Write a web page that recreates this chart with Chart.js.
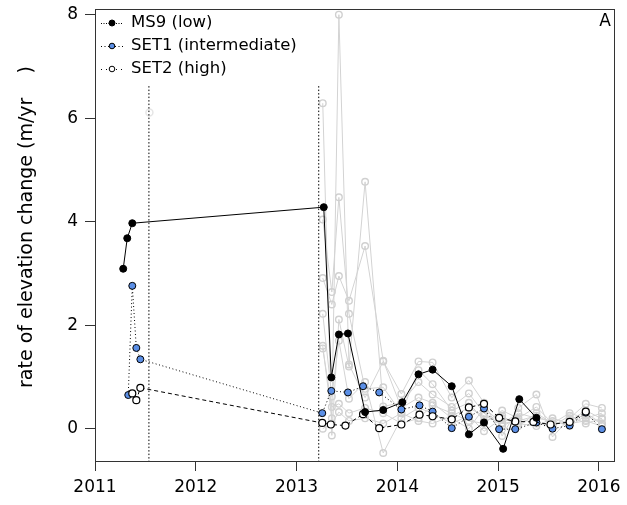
<!DOCTYPE html>
<html>
<head>
<meta charset="utf-8">
<script src="https://cdn.jsdelivr.net/npm/chart.js@4/dist/chart.umd.min.js"></script>
<style>
html, body { margin: 0; padding: 0; background: #fff; }
#wrap { width: 627px; height: 505px; }
</style>
</head>
<body>
<div id="wrap"><canvas id="c" width="627" height="505"></canvas></div>
<script>
// values (decimal years, m/yr)
var ms9Dates = [2011.28, 2011.32, 2011.37, 2013.27, 2013.345, 2013.42, 2013.51, 2013.68, 2013.86, 2014.05, 2014.21, 2014.35, 2014.54, 2014.71, 2014.86, 2015.05, 2015.21, 2015.38];
var ms9Values = [3.09, 3.68, 3.97, 4.28, 0.99, 1.82, 1.84, 0.32, 0.36, 0.51, 1.05, 1.14, 0.82, -0.11, 0.12, -0.39, 0.57, 0.21];

var set1Dates = [2011.33, 2011.37, 2011.41, 2011.45, 2013.255, 2013.345, 2013.51, 2013.66, 2013.82, 2014.04, 2014.22, 2014.35, 2014.54, 2014.71, 2014.86, 2015.01, 2015.17, 2015.38, 2015.54, 2015.71, 2015.87, 2016.03];
var set1Values = [0.65, 2.76, 1.56, 1.34, 0.30, 0.73, 0.70, 0.82, 0.70, 0.37, 0.45, 0.33, 0.01, 0.23, 0.39, -0.01, -0.01, 0.12, 0.00, 0.06, 0.31, -0.01];

var set2Dates = [2011.37, 2011.41, 2011.45, 2013.255, 2013.34, 2013.485, 2013.66, 2013.82, 2014.04, 2014.22, 2014.35, 2014.54, 2014.71, 2014.86, 2015.01, 2015.17, 2015.35, 2015.52, 2015.71, 2015.87];
var set2Values = [0.68, 0.55, 0.79, 0.11, 0.08, 0.06, 0.28, 0.01, 0.08, 0.27, 0.24, 0.18, 0.41, 0.48, 0.21, 0.14, 0.13, 0.08, 0.13, 0.33];

// background stations (grey)
var grayDates = [2013.26, 2013.35, 2013.42, 2013.52, 2013.68, 2013.86, 2014.04, 2014.21, 2014.35, 2014.54, 2014.71, 2014.86, 2015.04, 2015.2, 2015.38, 2015.54, 2015.71, 2015.87, 2016.03];
var grayA = [6.29, -0.13, 2.11, 1.20, 4.77, 0.43, 0.50, 0.90, 0.66, 0.42, 0.68, 0.30, 0.05, 0.20, 0.42, 0.10, 0.15, 0.35, 0.19];
var grayB = [1.60, 0.20, 8.00, 1.24, 0.60, 1.30, 0.67, 1.30, 1.28, 0.60, 0.93, 0.50, -0.14, 0.40, 0.66, -0.16, 0.20, 0.48, 0.40];
var grayC = [4.04, 2.64, 4.47, 2.22, 0.77, 0.80, 0.30, 1.13, 0.86, 0.35, 0.50, 0.15, 0.25, 0.05, 0.30, 0.10, 0.30, 0.20, 0.30];
var grayD = [2.91, 2.40, 2.95, 2.47, 3.53, 1.31, 0.40, 0.60, 0.50, 0.20, 0.00, 0.40, 0.10, 0.30, 0.20, 0.15, 0.05, 0.25, 0.10];
var grayE = [2.22, 0.62, 1.70, 0.58, 0.90, -0.47, 0.20, 0.40, 0.30, 0.10, 0.25, -0.05, 0.20, 0.10, 0.05, 0.20, 0.10, 0.15, 0.05];
var grayF = [1.55, 0.42, 0.48, 0.30, 0.40, 0.30, 0.10, 0.20, 0.45, 0.30, 0.15, 0.10, 0.35, 0.20, 0.10, 0.05, 0.25, 0.10, 0.20];
var grayG = [0.00, 0.10, 0.32, 0.15, 0.20, 0.10, 0.30, 0.15, 0.10, 0.25, 0.40, 0.25, 0.10, 0.15, 0.25, 0.10, 0.10, 0.30, 0.10];
var grayList = [grayA, grayB, grayC, grayD, grayE, grayF, grayG];

var faintDate = [2011.54];
var faintValue = [6.11];

var eventDates = [2011.535, 2013.22];
var eventTop = 6.62;

var xTicks = [2011, 2012, 2013, 2014, 2015, 2016];
var yTicks = [0, 2, 4, 6, 8];
var xMin = 2011, xMax = 2016.15;
var yMin = -0.625, yMax = 8.11;

var FONT = "'DejaVu Sans', Verdana, sans-serif";
var BLUE = '#5b8fe6';

function pts(xs, ys) {
  return xs.map(function (x, i) { return { x: x, y: ys[i] }; });
}

var datasets = [];
datasets.push({
  label: 'MS9 (low)', data: pts(ms9Dates, ms9Values), order: 0,
  borderColor: '#000', borderWidth: 1, pointRadius: 3.5,
  pointBackgroundColor: '#000', pointBorderColor: '#000', pointBorderWidth: 1
});
datasets.push({
  label: 'SET2 (high)', data: pts(set2Dates, set2Values), order: 1,
  borderColor: '#000', borderWidth: 1, borderDash: [4, 3], pointRadius: 3.5,
  pointBackgroundColor: '#fff', pointBorderColor: '#000', pointBorderWidth: 1.2
});
datasets.push({
  label: 'SET1 (intermediate)', data: pts(set1Dates, set1Values), order: 2,
  borderColor: '#000', borderWidth: 1, borderDash: [1, 2.5], pointRadius: 3.5,
  pointBackgroundColor: BLUE, pointBorderColor: '#000', pointBorderWidth: 1
});
eventDates.forEach(function (d) {
  datasets.push({
    label: 'event', data: [{ x: d, y: eventTop }, { x: d, y: yMin }], order: 3,
    borderColor: '#000', borderWidth: 1, borderDash: [1.5, 2], pointRadius: 0
  });
});
datasets.push({
  label: 'faint', data: pts(faintDate, faintValue), order: 4, showLine: false,
  pointRadius: 3.5, pointBackgroundColor: 'rgba(0,0,0,0)',
  pointBorderColor: '#e6e6e6', pointBorderWidth: 1.5
});
grayList.forEach(function (g) {
  datasets.push({
    label: 'station', data: pts(grayDates, g), order: 5,
    borderColor: '#d3d3d3', borderWidth: 1, pointRadius: 3.3,
    pointBackgroundColor: 'rgba(0,0,0,0)', pointBorderColor: '#d0d0d0', pointBorderWidth: 1.4
  });
});

var extras = {
  id: 'extras',
  afterDraw: function (chart) {
    var ctx = chart.ctx, a = chart.chartArea;
    ctx.save();
    // frame
    ctx.strokeStyle = '#333';
    ctx.lineWidth = 1;
    ctx.strokeRect(Math.round(a.left) + 0.5, Math.round(a.top) + 0.5,
      Math.round(a.right - a.left), Math.round(a.bottom - a.top));
    // panel letter
    ctx.fillStyle = '#000';
    ctx.font = '17px ' + FONT;
    ctx.textAlign = 'right';
    ctx.textBaseline = 'middle';
    ctx.fillText('A', a.right - 3, 22);
    // y title
    ctx.save();
    ctx.translate(27, 227);
    ctx.rotate(-Math.PI / 2);
    ctx.textAlign = 'center';
    ctx.font = '19px ' + FONT;
    ctx.fillText('rate of elevation change (m/yr    )', 0, 0);
    ctx.restore();
    // legend
    var items = [
      { t: 'MS9 (low)', fill: '#000', dash: [1, 1.5] },
      { t: 'SET1 (intermediate)', fill: BLUE, dash: [1, 2.5] },
      { t: 'SET2 (high)', fill: '#fff', dash: [1, 4] }
    ];
    items.forEach(function (it, i) {
      var y = 23 + i * 23;
      ctx.setLineDash(it.dash);
      ctx.strokeStyle = '#000';
      ctx.lineWidth = 1;
      ctx.beginPath();
      ctx.moveTo(101, y + 0.5);
      ctx.lineTo(123, y + 0.5);
      ctx.stroke();
      ctx.setLineDash([]);
      ctx.beginPath();
      ctx.arc(112, y, i === 0 ? 3 : 2.8, 0, Math.PI * 2);
      ctx.fillStyle = it.fill;
      ctx.fill();
      ctx.stroke();
      ctx.fillStyle = '#000';
      ctx.textAlign = 'left';
      ctx.font = '16.5px ' + FONT;
      ctx.fillText(it.t, 131, y);
    });
    ctx.restore();
  }
};

new Chart(document.getElementById('c'), {
  type: 'line',
  data: { datasets: datasets },
  options: {
    responsive: false,
    animation: false,
    layout: { padding: { left: 0, right: 13, top: 9, bottom: 0 } },
    plugins: { legend: { display: false }, tooltip: { enabled: false } },
    scales: {
      x: {
        type: 'linear', min: xMin, max: xMax,
        afterFit: function (s) { s.height = 44; s.paddingLeft = 0; s.paddingRight = 0; },
        afterBuildTicks: function (s) { s.ticks = xTicks.map(function (v) { return { value: v }; }); },
        ticks: { color: '#000', padding: 6, font: { family: FONT, size: 17 }, callback: function (v) { return String(v); } },
        grid: { drawOnChartArea: false, drawTicks: true, tickLength: 10, color: '#333' },
        border: { display: true, color: '#333' }
      },
      y: {
        type: 'linear', min: yMin, max: yMax,
        afterFit: function (s) { s.width = 95; s.paddingTop = 0; s.paddingBottom = 0; },
        afterBuildTicks: function (s) { s.ticks = yTicks.map(function (v) { return { value: v }; }); },
        ticks: { color: '#000', padding: 7, font: { family: FONT, size: 17 }, callback: function (v) { return String(v); } },
        grid: { drawOnChartArea: false, drawTicks: true, tickLength: 10, color: '#333' },
        border: { display: true, color: '#333' }
      }
    }
  },
  plugins: [extras]
});
</script>
</body>
</html>
